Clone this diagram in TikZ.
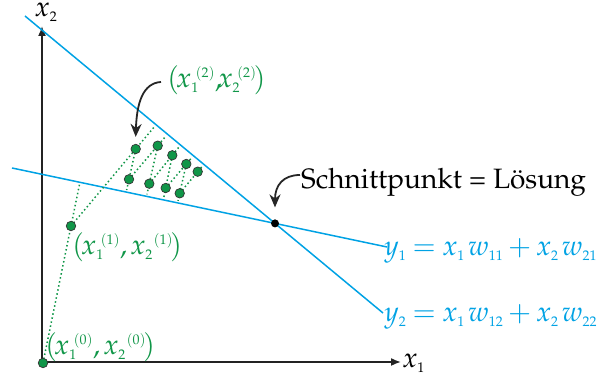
\documentclass[tikz,border=0pt]{standalone}
\usepackage[T1]{fontenc}
\usepackage{mathpazo}
\usepackage{tikz}
\usetikzlibrary{arrows.meta,positioning,calc}
\definecolor{linecyan}{RGB}{0,162,228}
\definecolor{itergreen}{RGB}{16,150,72}
\definecolor{axisgray}{RGB}{35,35,35}
\DeclareMathSizes{28}{28}{14}{10}
\newcommand{\xit}[2]{{x_{#1}\mkern-2mu}^{(#2)}}

\begin{document}
\begin{tikzpicture}[x=1pt,y=1pt,
  font=\fontsize{28}{33}\selectfont,
  axis/.style={line width=1.6pt,draw=axisgray,-{Latex[length=10pt,width=8pt]}},
  eqline/.style={line width=1.5pt,draw=linecyan},
  iter/.style={line width=1.5pt,draw=itergreen,dash pattern=on 1.5pt off 2.6pt,shorten >=2pt},
  dot/.style={circle,fill=itergreen,draw=black!80,line width=0.7pt,inner sep=0pt,minimum size=9.5pt},
  hint/.style={line width=1.8pt,draw=black!85,-{Stealth[length=13pt,width=11pt]}},
  eqlabel/.style={anchor=base west,inner sep=0pt,text=linecyan,
    execute at begin node={\medmuskip=3mu\thickmuskip=4mu}},
  itlabel/.style={anchor=base west,inner sep=0pt,text=itergreen},
]
\useasboundingbox (0,0) rectangle (600,374);

\coordinate (O) at (42,12);
\coordinate (ytop) at (42,348);
\coordinate (xend) at (401,12);
\draw[axis] (O) -- (ytop);
\draw[axis] (O) -- (xend);
\node[anchor=base,inner sep=0pt] (x2lab) at (46,357) {$x_2$};
\node[anchor=base west,inner sep=0pt] (x1lab) at (402,6) {$x_1$};

\coordinate (L1s) at (12,206);
\coordinate (L1e) at (387,127);
\coordinate (L2s) at (25,358);
\coordinate (L2e) at (383,61);
\draw[eqline] (L1s) -- (L1e);
\draw[eqline] (L2s) -- (L2e);
\node[circle,fill=black,inner sep=0pt,minimum size=8pt] (sol) at (intersection of L1s--L1e and L2s--L2e) {};

\node[eqlabel] (eq1) at (384,118) {$y_1 = x_1\mkern2mu w_{11} + x_2\mkern2mu w_{21}$};
\node[eqlabel] (eq2) at (384,52) {$y_2 = x_1\mkern2mu w_{12} + x_2\mkern2mu w_{22}$};
\node[anchor=base west,inner sep=0pt] (schnitt) at (301,185) {Schnittpunkt = L\"osung};
\draw[hint] ([xshift=-1pt]schnitt.west |- 0,199) .. controls +(-17,0) and +(0,22) .. ([yshift=16pt]sol.center);

\coordinate (p0) at (43,11);
\coordinate (p1) at (71,148);
\coordinate (p2) at (135.7,225);
\coordinate (p3) at (129,194.7);
\coordinate (p4) at (157.7,228.3);
\coordinate (p5) at (149.3,190.3);
\coordinate (p6) at (172.3,218.7);
\coordinate (p7) at (165.7,186);
\coordinate (p8) at (186.3,210);
\coordinate (p9) at (179.7,180.7);
\coordinate (p10) at (197.7,202.3);

\draw[iter] (p0) -- (intersection of p0--p1 and L1s--L1e);
\draw[iter] (p1) -- (intersection of p1--p2 and L2s--L2e);
\draw[iter] (p2) -- (intersection of p2--p3 and L1s--L1e);
\draw[iter] (p3) -- (intersection of p3--p4 and L2s--L2e);
\draw[iter] (p4) -- (intersection of p4--p5 and L1s--L1e);
\draw[iter] (p5) -- (intersection of p5--p6 and L2s--L2e);
\draw[iter] (p6) -- (intersection of p6--p7 and L1s--L1e);
\draw[iter] (p7) -- (intersection of p7--p8 and L2s--L2e);
\draw[iter] (p8) -- (intersection of p8--p9 and L1s--L1e);
\draw[iter] (p9) -- (intersection of p9--p10 and L2s--L2e);

\node[dot] (P0) at (p0) {};
\node[dot] (P1) at (p1) {};
\node[dot] (P2) at (p2) {};
\node[dot] (P3) at (p3) {};
\node[dot] (P4) at (p4) {};
\node[dot] (P5) at (p5) {};
\node[dot] (P6) at (p6) {};
\node[dot] (P7) at (p7) {};
\node[dot] (P8) at (p8) {};
\node[dot] (P9) at (p9) {};
\node[dot] (P10) at (p10) {};

\node[itlabel] (lab0) at (45,19) {$(\mkern-2mu\xit{1}{0}{,}\mkern2mu{x_2\mkern-1mu}^{\,(0)}\mkern-2mu)$};
\node[itlabel] (lab1) at (72,119) {$(\mkern-2mu\xit{1}{1}{,}\mkern2mu{x_2\mkern-1mu}^{\,(1)}\mkern-2mu)$};
\node[itlabel] (lab2) at (167,286) {$(\mkern-2mu\xit{1}{2}{,}\mkern-3mu\xit{2}{2}\mkern-2mu)$};
\draw[hint] ([xshift=-6pt]lab2.west |- 0,292) .. controls +(-18,-1) and +(1,34) .. ([yshift=7pt]P2.north);
\end{tikzpicture}
\end{document}
